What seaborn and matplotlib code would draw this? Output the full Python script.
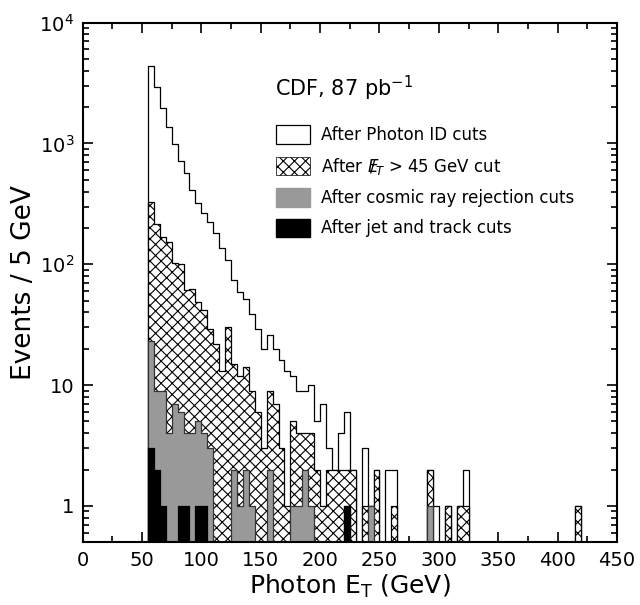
import numpy as np
import pandas as pd
import matplotlib
matplotlib.use("Agg")
import matplotlib.pyplot as plt
from matplotlib.patches import Patch
from matplotlib.ticker import FixedLocator, FixedFormatter, MultipleLocator, LogLocator, NullFormatter
import seaborn as sns

# Photon E_T histograms, 5 GeV bins starting at 55 GeV (counts per bin)
bin_start = 55
bin_width = 5

photon_id = [4400, 2950, 1980, 1360, 985, 720, 567, 412, 324, 265,
             225, 181, 136, 109, 74, 59, 52, 39, 29, 20,
             26, 20, 16, 13, 12, 9, 9, 10, 5, 7,
             3, 2, 4, 6, 2, 0, 3, 1, 2, 0,
             2, 2, 0, 0, 0, 0, 0, 2, 1, 0,
             1, 0, 1, 2, 0, 0, 0, 0, 0, 0,
             0, 0, 0, 0, 0, 0, 0, 0, 0, 0,
             0, 0, 1]
met_cut = [325, 215, 169, 154, 102, 100, 61, 63, 49, 42,
           29, 22, 13, 30, 15, 12, 14, 9, 6, 3,
           9, 7, 3, 1, 5, 4, 4, 4, 2, 1,
           2, 2, 2, 2, 2, 0, 1, 1, 2, 0,
           0, 1, 0, 0, 0, 0, 0, 2, 0, 0,
           1, 0, 1, 1, 0, 0, 0, 0, 0, 0,
           0, 0, 0, 0, 0, 0, 0, 0, 0, 0,
           0, 0, 1]
cosmic_cut = [23, 9, 9, 4, 7, 6, 4, 4, 5, 4,
              3, 0, 0, 0, 2, 1, 2, 1, 0, 0,
              2, 0, 0, 0, 1, 1, 2, 1, 0, 0,
              0, 0, 0, 1, 0, 0, 0, 1, 0, 0,
              0, 0, 0, 0, 0, 0, 0, 1]
jet_track_cut = [3, 2, 1, 0, 0, 1, 1, 0, 1, 1,
                 0, 0, 0, 0, 0, 0, 0, 0, 0, 0,
                 0, 0, 0, 0, 0, 0, 0, 0, 0, 0,
                 0, 0, 0, 1]

labels = ["After Photon ID cuts",
          r"After $E\!\!\!/_{T}$ > 45 GeV cut",
          "After cosmic ray rejection cuts",
          "After jet and track cuts"]

sns.set_style("ticks")
plt.rcParams["font.family"] = ["DejaVu Sans"]
plt.rcParams["hatch.linewidth"] = 0.8
plt.rcParams["hatch.color"] = "black"
for key in ["text.color", "axes.labelcolor", "xtick.color", "ytick.color", "axes.edgecolor"]:
    plt.rcParams[key] = "black"

fig = plt.figure(figsize=(6.4, 6.05), dpi=100)
ax = fig.add_axes([0.129, 0.1036, 0.835, 0.859])
ax.set_yscale("log")


def draw_hist(counts, **kws):
    n = len(counts)
    df = pd.DataFrame({
        "et": bin_start + bin_width * (np.arange(n) + 0.5),
        "n": np.asarray(counts, dtype=float),
    })
    sns.histplot(data=df, x="et", weights="n", binwidth=bin_width,
                 binrange=(bin_start, bin_start + bin_width * n),
                 element="step", fill=True, linewidth=0.9, ax=ax, **kws)


draw_hist(photon_id, facecolor="white", edgecolor="black")
draw_hist(met_cut, facecolor="white", edgecolor="black", hatch="xxx")
draw_hist(cosmic_cut, facecolor="#999999", edgecolor="#333333")
draw_hist(jet_track_cut, facecolor="black", edgecolor="black")

ax.set_xlim(0, 450)
ax.set_ylim(0.5, 1e4)
ax.xaxis.set_major_locator(MultipleLocator(50))
ax.xaxis.set_minor_locator(MultipleLocator(25))
ax.yaxis.set_major_locator(FixedLocator([1, 10, 100, 1000, 10000]))
ax.yaxis.set_major_formatter(FixedFormatter(["1", "10", r"$10^{2}$", r"$10^{3}$", r"$10^{4}$"]))
ax.yaxis.set_minor_locator(LogLocator(base=10, subs=np.arange(2, 10)))
ax.yaxis.set_minor_formatter(NullFormatter())
ax.tick_params(which="both", direction="in", top=True, right=True, width=1.2)
ax.tick_params(which="major", length=7, labelsize=14, pad=6)
ax.tick_params(which="minor", length=4)
for s in ax.spines.values():
    s.set_linewidth(1.5)

ax.set_xlabel(r"Photon E$_\mathrm{T}$ (GeV)", fontsize=18, labelpad=2)
ax.set_ylabel("Events / 5 GeV", fontsize=19, labelpad=2)

ax.text(0.49, 0.873, r"CDF, 87 pb$^{-1}$", transform=ax.transAxes,
        ha="center", va="center", fontsize=15)

handles = [Patch(facecolor="white", edgecolor="black", linewidth=0.9),
           Patch(facecolor="white", edgecolor="black", linewidth=0.5, hatch="xxx"),
           Patch(facecolor="#999999", edgecolor="#999999"),
           Patch(facecolor="black", edgecolor="black")]
ax.legend(handles, labels, loc="upper left", bbox_to_anchor=(0.35, 0.815),
          frameon=False, fontsize=12, handlelength=2.0, handleheight=1.3,
          labelspacing=0.7, handletextpad=0.7, borderaxespad=0)

fig.savefig("out.png", dpi=100)
